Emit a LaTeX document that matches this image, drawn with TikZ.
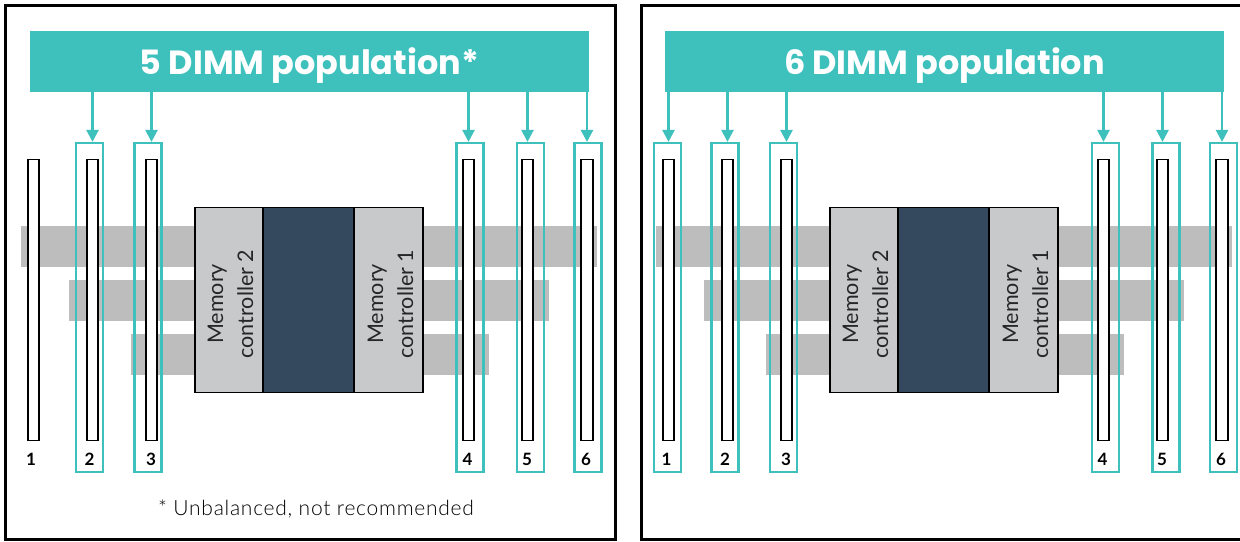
\documentclass[tikz,border=0pt]{standalone}
\usepackage{fontspec}
\setmainfont{Lato}
\newfontfamily\titlefont{Poppins}
\newfontfamily\lightfont[LetterSpace=3.5]{Lato Light}
\usepackage{tikz}
\usetikzlibrary{arrows.meta}
\definecolor{teal1}{HTML}{3EC0BD}
\definecolor{band1}{HTML}{BDBDBD}
\definecolor{ctrl1}{HTML}{C8C9CB}
\definecolor{core1}{HTML}{34495D}
\tikzset{
>=Stealth,
panel/.style={draw=black,line width=3pt,minimum height=534pt},
title node/.style={fill=teal1,text=white,minimum width=559pt,minimum height=61pt,inner sep=0pt},
title text/.style={text=white,inner sep=0pt,font=\titlefont\bfseries\fontsize{33.5}{36}\selectfont},
band/.style={fill=band1,minimum height=41pt,inner sep=0pt},
slot/.style={draw=black,fill=white,line width=1.6pt,minimum width=11.5pt,minimum height=281pt,inner sep=0pt},
sel/.style={draw=teal1,line width=2.2pt,minimum width=27pt,minimum height=329pt,inner sep=0pt},
freccia/.style={-{Stealth[length=12pt,width=12pt,inset=0pt]},draw=teal1,line width=2.5pt},
ctrl/.style={draw=black,fill=ctrl1,line width=1.5pt,minimum height=185pt,inner sep=0pt,align=center},
core/.style={draw=black,fill=core1,line width=1.5pt,minimum width=91pt,minimum height=185pt,inner sep=0pt},
ctrl text/.style={rotate=90,align=center,text=black!85,font=\fontsize{21.5}{30}\selectfont},
num/.style={inner sep=0pt,font=\bfseries\fontsize{17}{17}\selectfont}}

\begin{document}
\begin{tikzpicture}[x=1pt,y=-1pt]
\useasboundingbox (0,0) rectangle (1240,541);

\node[panel,minimum width=610pt] (p1) at (310.5,272) {};
\node[panel,minimum width=610pt] (p2) at (946,272) {};

\node[title node] (t1) at (309.5,61.5) {};
\node[title node] (t2) at (944.5,61.5) {};
\node[title text] (t1t) at (309.5,65.5) {5 DIMM population*};
\node[title text] (t2t) at (944.5,65.5) {6 DIMM population};

\node[band,minimum width=576pt] (a1) at (309,246.5) {};
\node[band,minimum width=480pt] (a2) at (309,300.5) {};
\node[band,minimum width=358pt] (a3) at (310,354) {};
\node[band,minimum width=576pt] (b1) at (944,246.5) {};
\node[band,minimum width=480pt] (b2) at (944,300.5) {};
\node[band,minimum width=358pt] (b3) at (945,354) {};

\node[slot] (s1) at (33.5,300) {};
\node[slot] (s2) at (92.5,300) {};
\node[slot] (s3) at (151.5,300) {};
\node[slot] (s4) at (468.5,300) {};
\node[slot] (s5) at (527.5,300) {};
\node[slot] (s6) at (587,300) {};
\node[slot] (r1) at (668.5,300) {};
\node[slot] (r2) at (727.5,300) {};
\node[slot] (r3) at (786.5,300) {};
\node[slot] (r4) at (1103.5,300) {};
\node[slot] (r5) at (1162.5,300) {};
\node[slot] (r6) at (1222,300) {};

\node[sel] (c2) at (89.5,307.5) {};
\node[sel] (c3) at (148,307.5) {};
\node[sel] (c4) at (470,307.5) {};
\node[sel] (c5) at (530.5,307.5) {};
\node[sel] (c6) at (588,307.5) {};
\node[sel] (d1) at (667.5,307.5) {};
\node[sel] (d2) at (725,307.5) {};
\node[sel] (d3) at (783.5,307.5) {};
\node[sel] (d4) at (1105.5,307.5) {};
\node[sel] (d5) at (1166,307.5) {};
\node[sel] (d6) at (1223.5,307.5) {};

\node[ctrl,minimum width=68pt] (m2) at (229,300) {};
\node[core] (k1) at (308.5,300) {};
\node[ctrl,minimum width=69pt] (m1) at (388.5,300) {};
\node[ctrl,minimum width=68pt] (n2) at (864,300) {};
\node[core] (k2) at (943.5,300) {};
\node[ctrl,minimum width=69pt] (n1) at (1023.5,300) {};

\node[ctrl text] (m2t) at (230.5,304) {Memory\\controller 2};
\node[ctrl text] (m1t) at (390.5,304) {Memory\\controller 1};
\node[ctrl text] (n2t) at (865.5,304) {Memory\\controller 2};
\node[ctrl text] (n1t) at (1025.5,304) {Memory\\controller 1};

\node[num] (l1) at (31,459) {1};
\node[num] (l2) at (89.5,459) {2};
\node[num] (l3) at (151,459) {3};
\node[num] (l4) at (467.5,459) {4};
\node[num] (l5) at (527,459) {5};
\node[num] (l6) at (586,459) {6};
\node[num] (q1) at (666.5,459) {1};
\node[num] (q2) at (725,459) {2};
\node[num] (q3) at (786,459) {3};
\node[num] (q4) at (1102.5,459) {4};
\node[num] (q5) at (1162,459) {5};
\node[num] (q6) at (1221,459) {6};

\node[font=\lightfont\fontsize{21}{21}\selectfont] (nota) at (316,509) {* Unbalanced, not recommended};

\draw[freccia] (t1.south -| s2) -- (s2 |- c2.north);
\draw[freccia] (t1.south -| s3) -- (s3 |- c3.north);
\draw[freccia] (t1.south -| s4) -- (s4 |- c4.north);
\draw[freccia] (t1.south -| s5) -- (s5 |- c5.north);
\draw[freccia] (t1.south -| s6) -- (s6 |- c6.north);
\draw[freccia] (t2.south -| r1) -- (r1 |- d1.north);
\draw[freccia] (t2.south -| r2) -- (r2 |- d2.north);
\draw[freccia] (t2.south -| r3) -- (r3 |- d3.north);
\draw[freccia] (t2.south -| r4) -- (r4 |- d4.north);
\draw[freccia] (t2.south -| r5) -- (r5 |- d5.north);
\draw[freccia] (t2.south -| r6) -- (r6 |- d6.north);

\end{tikzpicture}
\end{document}
